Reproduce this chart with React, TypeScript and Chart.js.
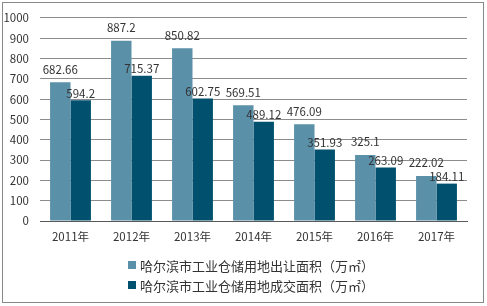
import React, { useEffect, useRef } from "react";
import { Chart, registerables } from "chart.js";

Chart.register(...registerables);

const categories = ["2011年", "2012年", "2013年", "2014年", "2015年", "2016年", "2017年"];
const seriesNames = [
  "哈尔滨市工业仓储用地出让面积（万㎡）",
  "哈尔滨市工业仓储用地成交面积（万㎡）",
];
const transferArea = [682.66, 887.2, 850.82, 569.51, 476.09, 325.1, 222.02];
const dealArea = [594.2, 715.37, 602.75, 489.12, 351.93, 263.09, 184.11];
const colors = ["#5B90A9", "#01516E"];
const yTicks = [0, 100, 200, 300, 400, 500, 600, 700, 800, 900, 1000];

const FONT = "'Noto Sans CJK SC', 'Noto Sans', sans-serif";

export default function App() {
  const ref = useRef<HTMLCanvasElement | null>(null);

  useEffect(() => {
    const canvas = ref.current;
    if (!canvas) return;

    const decor = {
      id: "decor",
      beforeDraw(chart: any) {
        const ctx = chart.ctx;
        ctx.save();
        ctx.fillStyle = "#ffffff";
        ctx.fillRect(0, 0, chart.width, chart.height);
        ctx.strokeStyle = "#888888";
        ctx.lineWidth = 1;
        ctx.strokeRect(2.5, 2.5, 481, 300);
        ctx.restore();
      },
      afterDatasetsDraw(chart: any) {
        const ctx = chart.ctx;
        ctx.save();
        ctx.font = `11.5px ${FONT}`;
        ctx.fillStyle = "#333333";
        ctx.textAlign = "center";
        ctx.textBaseline = "middle";
        chart.data.datasets.forEach((ds: any, di: number) => {
          const meta = chart.getDatasetMeta(di);
          meta.data.forEach((bar: any, i: number) => {
            const off = di === 0 ? 13 : 7;
            ctx.fillText(String(ds.data[i]), bar.x, bar.y - off);
          });
        });
        // legend
        const area = chart.chartArea;
        ctx.font = `13px ${FONT}`;
        ctx.textAlign = "left";
        const widths = seriesNames.map((n) => ctx.measureText(n).width);
        const total = 8 + 4 + Math.max(...widths);
        const cx = (area.left + area.right) / 2;
        const x0 = Math.round(cx - total / 2) - 2;
        const rows = [265, 285];
        seriesNames.forEach((n, i) => {
          ctx.fillStyle = colors[i];
          ctx.fillRect(x0, rows[i] - 4, 8, 8);
          ctx.fillStyle = "#333333";
          ctx.fillText(n, x0 + 12, rows[i] + 1);
        });
        ctx.restore();
      },
    };

    const chart = new Chart(canvas, {
      type: "bar",
      data: {
        labels: categories,
        datasets: [
          { label: seriesNames[0], data: transferArea, backgroundColor: colors[0] },
          { label: seriesNames[1], data: dealArea, backgroundColor: colors[1] },
        ],
      },
      options: {
        animation: false,
        responsive: false,
        maintainAspectRatio: false,
        layout: { padding: { left: 0, right: 20, top: 16, bottom: 55 } },
        datasets: {
          bar: { categoryPercentage: 0.67, barPercentage: 1 },
        },
        plugins: {
          legend: { display: false },
          tooltip: { enabled: false },
        },
        scales: {
          x: {
            grid: { display: false, drawTicks: false },
            border: { display: true, color: "#595959", width: 1 },
            ticks: { color: "#333333", font: { size: 11.5, family: FONT }, padding: 9, maxRotation: 0 },
            afterFit(scale: any) {
              scale.height = 30;
            },
          },
          y: {
            min: 0,
            max: 1000,
            afterBuildTicks(scale: any) {
              scale.ticks = yTicks.map((v) => ({ value: v }));
            },
            grid: { color: "#8C8C8C", drawTicks: false },
            border: { display: false },
            ticks: {
              color: "#333333",
              font: { size: 11.5, family: FONT },
              padding: 11,
              callback: (v: any) => String(v),
            },
            afterFit(scale: any) {
              scale.width = 40;
            },
          },
        },
      },
      plugins: [decor],
    });
    return () => chart.destroy();
  }, []);

  return (
    <div style={{ position: "fixed", left: 0, top: 0, width: 487, height: 306 }}>
      <canvas ref={ref} width={487} height={306} style={{ width: 487, height: 306, display: "block" }} />
    </div>
  );
}
